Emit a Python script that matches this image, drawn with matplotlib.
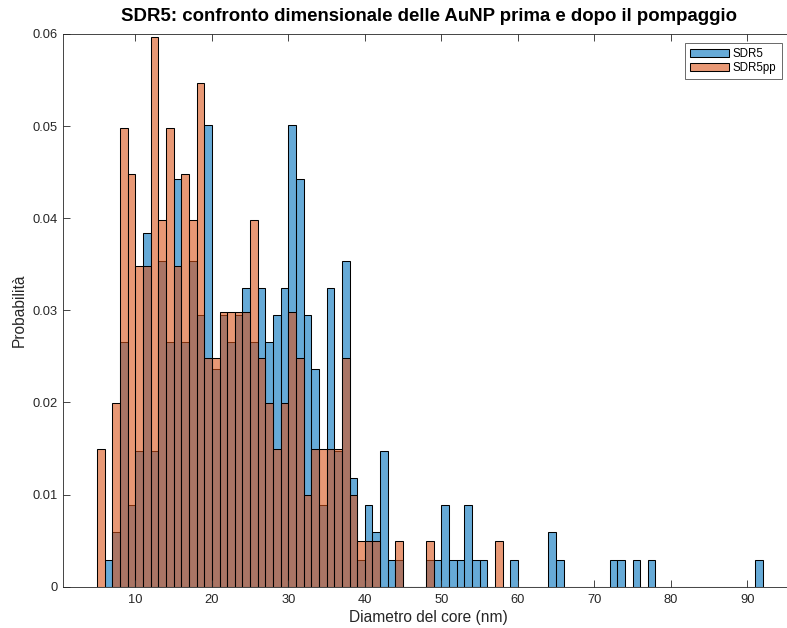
import numpy as np
import matplotlib
matplotlib.use("Agg")
import matplotlib.pyplot as plt

plt.rcParams['font.family'] = ['Liberation Sans', 'DejaVu Sans']

# Particle counts per 1-nm bin (value = left edge of the bin), SDR5 (before pumping)
sdr5_bins = [6, 7, 8, 9, 10, 11, 12, 13, 14, 15, 16, 17, 18, 19, 20,
             21, 22, 23, 24, 25, 26, 27, 28, 29, 30, 31, 32, 33, 34, 35,
             36, 37, 38, 39, 40, 41, 42, 43, 44, 48, 49, 50, 51, 52, 53,
             54, 55, 59, 64, 65, 72, 73, 75, 77, 91]
sdr5_counts = [1, 2, 9, 3, 5, 13, 5, 12, 9, 15, 9, 12, 10, 17, 8,
               10, 9, 10, 11, 9, 11, 9, 10, 11, 17, 15, 10, 8, 3, 11,
               5, 12, 4, 1, 3, 2, 5, 1, 1, 1, 1, 3, 1, 1, 3,
               1, 1, 1, 2, 1, 1, 1, 1, 1, 1]

# Particle counts per 1-nm bin, SDR5pp (after pumping)
sdr5pp_bins = [5, 7, 8, 9, 10, 11, 12, 13, 14, 15, 16, 17, 18, 19, 20,
               21, 22, 23, 24, 25, 26, 27, 28, 29, 30, 31, 32, 33, 34, 35,
               36, 37, 38, 39, 40, 41, 44, 48, 57]
sdr5pp_counts = [3, 4, 10, 9, 7, 7, 12, 8, 10, 7, 9, 8, 11, 5, 5,
                 6, 6, 6, 6, 8, 5, 4, 3, 4, 6, 5, 2, 3, 3, 3,
                 3, 5, 2, 1, 1, 1, 1, 1, 1]

series_names = ["SDR5", "SDR5pp"]

blue = (0.0, 0.447, 0.741, 0.6)
orange = (0.85, 0.325, 0.098, 0.6)
axis_gray = (0.15, 0.15, 0.15)

W, H = 787, 628
fig = plt.figure(figsize=(W / 100, H / 100), dpi=100)
# axes box in pixels: left, bottom, width, height (right side runs past the canvas)
ax = fig.add_axes([62.7 / W, 41.3 / H, 732.0 / W, 552.7 / H])


def draw_hist(bins, counts, color, label):
    bins = np.asarray(bins, dtype=float)
    counts = np.asarray(counts, dtype=float)
    edges = np.arange(bins.min(), bins.max() + 2, 1.0)
    ax.hist(bins + 0.5, bins=edges, weights=counts / counts.sum(),
            facecolor=color, edgecolor='black', linewidth=0.75, label=label)


draw_hist(sdr5_bins, sdr5_counts, blue, series_names[0])
draw_hist(sdr5pp_bins, sdr5pp_counts, orange, series_names[1])

ax.set_xlim(0.5, 96.2)
ax.set_ylim(0, 0.06)
ax.set_xticks(np.arange(10, 91, 10))
ax.set_yticks(np.arange(0, 0.061, 0.01))
ax.set_yticklabels(["0", "0.01", "0.02", "0.03", "0.04", "0.05", "0.06"])

for s in ax.spines.values():
    s.set_color(axis_gray)
    s.set_linewidth(0.6)
ax.tick_params(direction='in', length=5, width=0.6, color=axis_gray,
               labelcolor=axis_gray, labelsize=9.3, top=True, right=True)
ax.tick_params(axis='x', pad=5)

ax.set_title("SDR5: confronto dimensionale delle AuNP prima e dopo il pompaggio",
             fontsize=13.4, fontweight='bold', pad=9)
ax.set_xlabel("Diametro del core (nm)", fontsize=11.2, color=axis_gray, labelpad=3)
ax.set_ylabel("Probabilità", fontsize=11.2, color=axis_gray, labelpad=4)

leg = ax.legend(loc='upper left', bbox_to_anchor=(685 / W, 1 - 43 / H),
                bbox_transform=fig.transFigure, borderaxespad=0,
                fontsize=8.3, frameon=True, fancybox=False,
                edgecolor=axis_gray, borderpad=0.45, handlelength=3.4,
                handleheight=0.75, labelspacing=0.15, handletextpad=0.3)
leg.get_frame().set_linewidth(0.6)

fig.savefig("out.png", dpi=100)
